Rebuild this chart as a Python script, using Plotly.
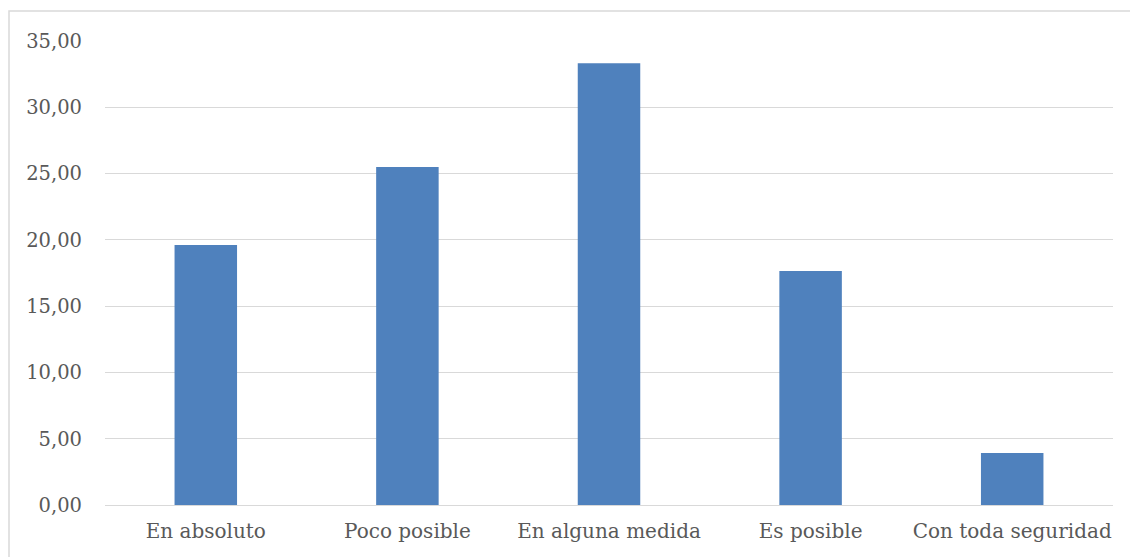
import plotly.graph_objects as go

categories = ["En absoluto", "Poco posible", "En alguna medida", "Es posible", "Con toda seguridad"]
values = [19.61, 25.49, 33.33, 17.65, 3.92]
y_ticks = [0, 5, 10, 15, 20, 25, 30, 35]

W, H = 1130, 557
L, R, T, B = 105, 17, 41, 52
pw, ph = W - L - R, H - T - B

fig = go.Figure(go.Bar(x=categories, y=values, marker=dict(color="#4F81BD", line=dict(width=0)),
                       hoverinfo="x+y"))

fig.update_layout(
    width=W, height=H,
    margin=dict(l=L, r=R, t=T, b=B, pad=0),
    paper_bgcolor="white", plot_bgcolor="white",
    bargap=0.69,
    separators=",.",
    showlegend=False,
    font=dict(family="DejaVu Serif", size=19.5, color="#595959"),
    xaxis=dict(showgrid=False, showline=True, linecolor="#D9D9D9", linewidth=1,
               ticks="", ticklabelstandoff=8, zeroline=False,
               tickfont=dict(size=20)),
    yaxis=dict(range=[0, 35], tickvals=y_ticks, tickformat=".2f", showgrid=True,
               gridcolor="#D9D9D9", gridwidth=1, zeroline=False, showline=False,
               ticks="", ticklabelstandoff=22),
)

fig.add_shape(type="rect", xref="paper", yref="paper",
              x0=(9 - L) / pw, x1=1.1, y0=-0.3, y1=1 + (T - 11) / ph,
              line=dict(color="#D9D9D9", width=1.5), fillcolor="rgba(0,0,0,0)", layer="below")

fig.write_html("out.html")
